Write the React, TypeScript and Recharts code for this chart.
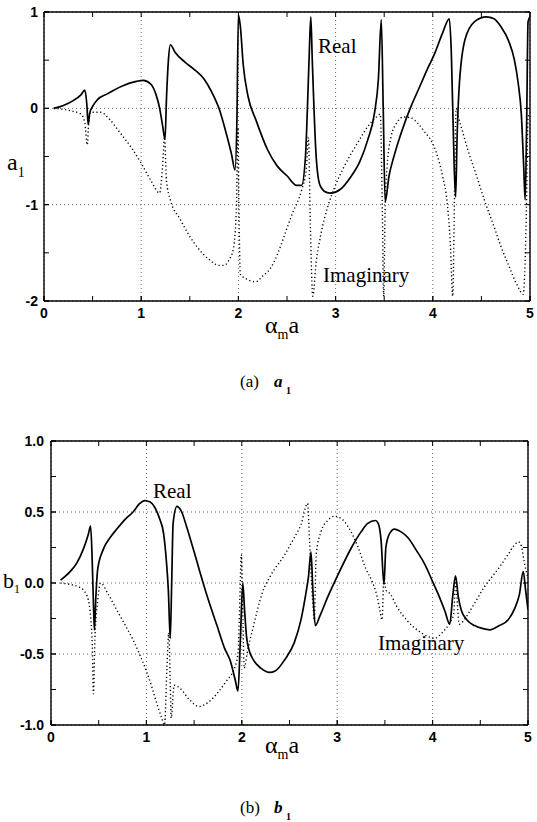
import React from 'react';
import { LineChart, Line, XAxis, YAxis, CartesianGrid } from 'recharts';

type Pt = [number, number];

// ---- axis ticks ----
const xMajorTicks = [0, 1, 2, 3, 4, 5];
const xMinorTicks = [0, 0.5, 1, 1.5, 2, 2.5, 3, 3.5, 4, 4.5, 5];
const a1MajorTicks = [-2, -1, 0, 1];
const a1MinorTicks = [-2, -1.5, -1, -0.5, 0, 0.5, 1];
const b1MajorTicks = [-1, -0.5, 0, 0.5, 1];
const b1MinorTicks = [-1, -0.75, -0.5, -0.25, 0, 0.25, 0.5, 0.75, 1];

// ---- (a) a1 : real part ----
const a1Real: Pt[] = [
  [0.1, 0], [0.2, 0.03], [0.3, 0.08], [0.38, 0.14], [0.42, 0.19], [0.44, 0.05], [0.455, -0.17],
  [0.47, -0.05], [0.5, 0.02], [0.55, 0.09], [0.65, 0.15], [0.8, 0.23], [0.95, 0.28], [1.02, 0.29],
  [1.1, 0.25], [1.15, 0.15], [1.19, 0.0], [1.22, -0.18], [1.245, -0.32], [1.26, 0.1], [1.28, 0.5],
  [1.3, 0.66], [1.35, 0.58], [1.45, 0.48], [1.55, 0.4], [1.65, 0.3], [1.72, 0.18], [1.8, 0.0],
  [1.88, -0.28], [1.93, -0.48], [1.965, -0.64], [1.985, -0.1], [2.0, 0.97], [2.02, 0.85],
  [2.05, 0.45], [2.1, 0.12], [2.18, -0.12], [2.3, -0.43], [2.4, -0.6], [2.5, -0.7], [2.6, -0.8],
  [2.65, -0.8], [2.69, -0.5], [2.71, 0.0], [2.73, 0.6], [2.745, 0.95], [2.76, 0.5], [2.8, -0.5],
  [2.84, -0.8], [2.9, -0.87], [2.95, -0.88], [3.05, -0.84], [3.15, -0.72], [3.25, -0.55],
  [3.33, -0.33], [3.4, -0.05], [3.44, 0.3], [3.47, 0.92], [3.49, 0.0], [3.51, -0.97], [3.55, -0.7],
  [3.6, -0.5], [3.68, -0.24], [3.78, 0.03], [3.85, 0.19], [3.95, 0.42], [4.02, 0.57], [4.1, 0.78],
  [4.17, 0.93], [4.19, 0.6], [4.22, -0.6], [4.235, -0.92], [4.25, -0.3], [4.27, 0.2], [4.33, 0.71],
  [4.43, 0.9], [4.55, 0.95], [4.63, 0.93], [4.7, 0.85], [4.78, 0.7], [4.84, 0.5], [4.88, 0.25],
  [4.91, -0.05], [4.935, -0.6], [4.95, -0.95], [4.965, -0.2], [4.98, 0.9], [5.0, 0.95],
];

// ---- (a) a1 : imaginary part ----
const a1Imag: Pt[] = [
  [0.1, 0], [0.25, -0.02], [0.38, -0.06], [0.42, -0.15], [0.445, -0.38], [0.46, -0.15],
  [0.48, -0.04], [0.58, -0.04], [0.68, -0.12], [0.78, -0.25], [0.9, -0.41], [1.0, -0.57],
  [1.1, -0.75], [1.19, -0.88], [1.22, -0.6], [1.24, -0.3], [1.26, -0.75], [1.3, -0.95],
  [1.4, -1.15], [1.5, -1.33], [1.6, -1.47], [1.7, -1.57], [1.8, -1.63], [1.85, -1.63],
  [1.9, -1.58], [1.95, -1.45], [1.98, -1.0], [1.995, -0.2], [2.005, -1.0], [2.02, -1.72],
  [2.1, -1.78], [2.18, -1.8], [2.25, -1.74], [2.33, -1.66], [2.4, -1.52], [2.48, -1.3],
  [2.56, -1.08], [2.65, -0.85], [2.7, -0.62], [2.72, -0.3], [2.74, -1.2], [2.765, -1.95],
  [2.8, -1.6], [2.85, -1.3], [2.92, -1.02], [2.99, -0.82], [3.08, -0.62], [3.16, -0.47],
  [3.25, -0.32], [3.33, -0.19], [3.41, -0.1], [3.46, -0.06], [3.48, -1.0], [3.495, -1.95],
  [3.51, -1.0], [3.53, -0.6], [3.57, -0.3], [3.63, -0.15], [3.7, -0.09], [3.78, -0.1],
  [3.85, -0.16], [3.92, -0.25], [3.98, -0.33], [4.04, -0.47], [4.1, -0.7], [4.15, -1.0],
  [4.18, -1.4], [4.205, -1.95], [4.225, -0.8], [4.24, 0.0], [4.26, -0.08], [4.3, -0.22],
  [4.36, -0.43], [4.45, -0.7], [4.53, -0.95], [4.62, -1.2], [4.7, -1.43], [4.78, -1.63],
  [4.87, -1.84], [4.93, -1.93], [4.96, -1.2], [4.98, -0.1], [5.0, -0.05],
];

// ---- (b) b1 : real part ----
const b1Real: Pt[] = [
  [0.1, 0.02], [0.2, 0.08], [0.27, 0.14], [0.34, 0.24], [0.39, 0.34], [0.415, 0.4], [0.43, 0.2],
  [0.445, -0.15], [0.455, -0.33], [0.47, -0.1], [0.49, 0.1], [0.55, 0.24], [0.62, 0.32],
  [0.69, 0.38], [0.78, 0.45], [0.86, 0.5], [0.93, 0.56], [0.98, 0.58], [1.04, 0.57], [1.09, 0.53],
  [1.14, 0.45], [1.18, 0.35], [1.21, 0.15], [1.23, -0.05], [1.25, -0.39], [1.265, 0.0],
  [1.28, 0.42], [1.32, 0.54], [1.37, 0.5], [1.42, 0.4], [1.5, 0.22], [1.56, 0.08], [1.65, -0.12],
  [1.74, -0.3], [1.82, -0.46], [1.88, -0.55], [1.93, -0.68], [1.96, -0.76], [1.985, -0.4],
  [2.01, 0.0], [2.03, -0.2], [2.05, -0.38], [2.08, -0.48], [2.12, -0.54], [2.2, -0.6],
  [2.29, -0.63], [2.35, -0.62], [2.45, -0.54], [2.55, -0.42], [2.62, -0.26], [2.67, -0.08],
  [2.7, 0.05], [2.725, 0.22], [2.745, -0.05], [2.77, -0.3], [2.82, -0.23], [2.9, -0.1],
  [3.01, 0.06], [3.15, 0.25], [3.25, 0.36], [3.32, 0.42], [3.4, 0.44], [3.43, 0.42], [3.46, 0.3],
  [3.49, -0.01], [3.51, 0.25], [3.55, 0.35], [3.6, 0.38], [3.67, 0.36], [3.74, 0.32], [3.83, 0.23],
  [3.92, 0.13], [4.0, 0.01], [4.06, -0.08], [4.13, -0.2], [4.18, -0.29], [4.21, -0.1], [4.24, 0.05],
  [4.27, -0.1], [4.3, -0.19], [4.36, -0.26], [4.44, -0.3], [4.52, -0.32], [4.6, -0.33], [4.7, -0.3],
  [4.79, -0.26], [4.86, -0.18], [4.91, -0.08], [4.95, 0.08], [4.975, -0.05], [5.0, -0.19],
];

// ---- (b) b1 : imaginary part ----
const b1Imag: Pt[] = [
  [0.1, 0.0], [0.2, -0.01], [0.3, -0.03], [0.37, -0.08], [0.41, -0.2], [0.435, -0.5],
  [0.445, -0.78], [0.46, -0.4], [0.49, -0.12], [0.52, 0.0], [0.6, -0.08], [0.69, -0.19],
  [0.78, -0.3], [0.86, -0.4], [0.94, -0.52], [1.0, -0.62], [1.06, -0.74], [1.11, -0.85],
  [1.16, -0.95], [1.19, -1.0], [1.215, -0.6], [1.235, -0.35], [1.25, -0.7], [1.26, -0.95],
  [1.29, -0.72], [1.35, -0.74], [1.45, -0.82], [1.55, -0.87], [1.65, -0.84], [1.75, -0.77],
  [1.85, -0.68], [1.91, -0.62], [1.96, -0.5], [1.98, -0.1], [1.995, 0.2], [2.01, -0.2],
  [2.025, -0.6], [2.06, -0.48], [2.12, -0.31], [2.22, -0.06], [2.3, 0.05], [2.45, 0.2],
  [2.55, 0.32], [2.62, 0.41], [2.69, 0.56], [2.71, 0.3], [2.74, -0.1], [2.76, -0.26],
  [2.78, 0.2], [2.83, 0.36], [2.9, 0.44], [2.97, 0.47], [3.05, 0.45], [3.12, 0.39], [3.22, 0.25],
  [3.3, 0.1], [3.36, 0.02], [3.42, -0.1], [3.45, -0.2], [3.47, -0.26], [3.49, 0.05], [3.51, -0.05],
  [3.56, -0.08], [3.62, -0.16], [3.74, -0.27], [3.88, -0.35], [3.96, -0.38], [4.02, -0.39],
  [4.1, -0.35], [4.17, -0.29], [4.22, -0.22], [4.245, 0.04], [4.26, -0.15], [4.28, -0.29],
  [4.32, -0.27], [4.37, -0.22], [4.46, -0.12], [4.54, -0.03], [4.63, 0.05], [4.71, 0.12],
  [4.79, 0.2], [4.85, 0.26], [4.9, 0.29], [4.93, 0.26], [4.96, 0.15], [5.0, 0.03],
];

const toRows = (pts: Pt[]) => pts.map(([x, y]) => ({ x, y }));

const SANS = '"Liberation Sans", Arial, Helvetica, sans-serif';
const SERIF = '"Liberation Serif", "Times New Roman", serif';
const MARK = 5;
const AXIS = 1; // thickness reserved for each axis strip

const tickText = {
  fontFamily: SANS,
  fontWeight: 700,
  fontSize: 14,
  fill: '#000',
};

// bottom axis: inward tick mark + numeric label
const bottomTick = (props: any) => {
  const { x, y, payload } = props;
  return (
    <g>
      <line x1={x} x2={x} y1={y} y2={y - MARK} stroke="#000" strokeWidth={1} />
      <text x={x} y={y + 17} textAnchor="middle" {...tickText}>
        {String(payload.value)}
      </text>
    </g>
  );
};

// top axis: inward marks on top and bottom edges
const makeTopTick = (plotH: number) => (props: any) => {
  const { x, y } = props;
  return (
    <g>
      <line x1={x} x2={x} y1={y} y2={y + MARK} stroke="#000" strokeWidth={1} />
      <line x1={x} x2={x} y1={y + plotH} y2={y + plotH - MARK} stroke="#000" strokeWidth={1} />
    </g>
  );
};

// left axis: inward mark + label
const makeLeftTick = (fmt: (v: number) => string, gap: number) => (props: any) => {
  const { x, y, payload } = props;
  return (
    <g>
      <line x1={x} x2={x + MARK} y1={y} y2={y} stroke="#000" strokeWidth={1} />
      <text x={x - gap} y={y + 5} textAnchor="end" {...tickText}>
        {fmt(payload.value)}
      </text>
    </g>
  );
};

// right axis: inward marks on right and left edges
const makeRightTick = (plotW: number) => (props: any) => {
  const { x, y } = props;
  return (
    <g>
      <line x1={x} x2={x - MARK} y1={y} y2={y} stroke="#000" strokeWidth={1} />
      <line x1={x - plotW} x2={x - plotW + MARK} y1={y} y2={y} stroke="#000" strokeWidth={1} />
    </g>
  );
};

const frame = { stroke: '#000', strokeWidth: 1.4 };

interface PanelProps {
  width: number;
  height: number;
  plot: { top: number; right: number; bottom: number; left: number };
  yDomain: [number, number];
  yMajor: number[];
  yMinor: number[];
  yFmt: (v: number) => string;
  yGap: number;
  real: Pt[];
  imag: Pt[];
}

function Panel(p: PanelProps) {
  // plot edges in chart pixels; each axis strip is AXIS px wide outside the plot
  const plotW = p.plot.right - p.plot.left;
  const plotH = p.plot.bottom - p.plot.top;
  const margin = {
    top: p.plot.top - AXIS,
    left: p.plot.left - AXIS,
    right: p.width - p.plot.right - AXIS,
    bottom: p.height - p.plot.bottom - AXIS,
  };
  return (
    <LineChart width={p.width} height={p.height} margin={margin}>
      <CartesianGrid stroke="#444" strokeWidth={0.8} strokeDasharray="1 3" />
      <XAxis
        dataKey="x"
        type="number"
        domain={[0, 5]}
        ticks={xMajorTicks}
        interval={0}
        allowDataOverflow
        height={AXIS}
        tickSize={0}
        tickMargin={0}
        tickLine={false}
        axisLine={frame}
        tick={bottomTick}
      />
      <XAxis
        xAxisId="top"
        orientation="top"
        dataKey="x"
        type="number"
        domain={[0, 5]}
        ticks={xMinorTicks}
        interval={0}
        allowDataOverflow
        height={AXIS}
        tickSize={0}
        tickMargin={0}
        tickLine={false}
        axisLine={frame}
        tick={makeTopTick(plotH)}
      />
      <YAxis
        type="number"
        domain={p.yDomain}
        ticks={p.yMajor}
        interval={0}
        allowDataOverflow
        width={AXIS}
        tickSize={0}
        tickMargin={0}
        tickLine={false}
        axisLine={frame}
        tick={makeLeftTick(p.yFmt, p.yGap)}
      />
      <YAxis
        yAxisId="right"
        orientation="right"
        type="number"
        domain={p.yDomain}
        ticks={p.yMinor}
        interval={0}
        allowDataOverflow
        width={AXIS}
        tickSize={0}
        tickMargin={0}
        tickLine={false}
        axisLine={frame}
        tick={makeRightTick(plotW)}
      />
      <Line
        data={toRows(p.imag)}
        dataKey="y"
        type="monotone"
        dot={false}
        stroke="#000"
        strokeWidth={1.4}
        strokeDasharray="1.2 2.6"
        isAnimationActive={false}
      />
      <Line
        data={toRows(p.real)}
        dataKey="y"
        type="monotone"
        dot={false}
        stroke="#000"
        strokeWidth={1.7}
        isAnimationActive={false}
      />
    </LineChart>
  );
}

const serifText = { fontFamily: SERIF, fill: '#000' };

function XLabel({ y }: { y: number }) {
  return (
    <text x={265} y={y} {...serifText} fontSize={24}>
      α
      <tspan fontSize={14} dy={6}>m</tspan>
      <tspan fontSize={24} dy={-6}>a</tspan>
    </text>
  );
}

export default function App() {
  return (
    <div style={{ position: 'absolute', left: 0, top: 0, width: 537, height: 822, background: '#fff' }}>
      <div style={{ position: 'absolute', left: 0, top: 0 }}>
        <Panel
          width={537}
          height={340}
          plot={{ top: 12, right: 530, bottom: 301, left: 44 }}
          yDomain={[-2, 1]}
          yMajor={a1MajorTicks}
          yMinor={a1MinorTicks}
          yFmt={(v) => String(v)}
          yGap={6}
          real={a1Real}
          imag={a1Imag}
        />
      </div>
      <div style={{ position: 'absolute', left: 0, top: 400 }}>
        <Panel
          width={537}
          height={360}
          plot={{ top: 41, right: 528, bottom: 325, left: 51 }}
          yDomain={[-1, 1]}
          yMajor={b1MajorTicks}
          yMinor={b1MinorTicks}
          yFmt={(v) => v.toFixed(1)}
          yGap={7}
          real={b1Real}
          imag={b1Imag}
        />
      </div>
      <svg
        width={537}
        height={822}
        style={{ position: 'absolute', left: 0, top: 0, pointerEvents: 'none' }}
      >
        {/* panel (a) annotations */}
        <text x={318} y={53} {...serifText} fontSize={21}>Real</text>
        <text x={323} y={282} {...serifText} fontSize={21}>Imaginary</text>
        <text x={7} y={170} {...serifText} fontSize={24}>
          a<tspan fontSize={14} dy={7}>1</tspan>
        </text>
        <XLabel y={333} />
        <text x={240} y={387} {...serifText} fontSize={17}>(a)</text>
        <text x={274} y={387} {...serifText} fontSize={17} fontWeight={700} fontStyle="italic">a</text>
        <text x={286} y={394} {...serifText} fontSize={10} fontWeight={700}>1</text>

        {/* panel (b) annotations */}
        <text x={153} y={498} {...serifText} fontSize={21}>Real</text>
        <text x={378} y={650} {...serifText} fontSize={21}>Imaginary</text>
        <text x={3} y={588} {...serifText} fontSize={22}>
          b<tspan fontSize={12} dy={5}>1</tspan>
        </text>
        <XLabel y={753} />
        <text x={240} y={813} {...serifText} fontSize={17}>(b)</text>
        <text x={274} y={813} {...serifText} fontSize={17} fontWeight={700} fontStyle="italic">b</text>
        <text x={286} y={820} {...serifText} fontSize={10} fontWeight={700}>1</text>
      </svg>
    </div>
  );
}
